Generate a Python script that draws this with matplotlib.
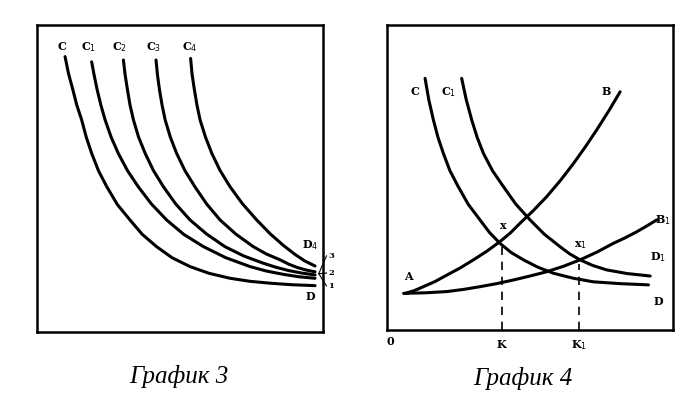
import matplotlib.pyplot as plt

# values, both panels on a 0..100 scale
# graph 3: demand curves D, C1..C4
g3_d_x = [9.8, 11.0, 12.5, 13.9, 15.6, 17.2, 19.1, 21.5, 24.4, 28.1, 32.5, 36.8, 41.8,
          47.2, 53.5, 60.2, 67.5, 74.5, 81.5, 89.0, 97.2]
g3_d_y = [89.7, 84.2, 79.0, 73.9, 69.1, 63.5, 58.2, 52.5, 47.3, 41.5, 36.5, 31.8, 27.8,
          24.2, 21.3, 19.1, 17.5, 16.5, 15.9, 15.4, 15.1]
g3_c1_x = [19.1, 20.0, 21.0, 22.3, 23.8, 25.9, 28.4, 31.6, 35.4, 40.0, 45.3, 51.3, 58.2,
           66.0, 74.5, 80.0, 86.0, 91.5, 97.2]
g3_c1_y = [88.0, 83.5, 79.0, 74.0, 69.1, 63.5, 58.2, 52.6, 47.3, 41.7, 36.5, 31.8, 27.8,
           24.2, 21.3, 19.9, 18.8, 18.0, 17.5]
g3_c2_x = [30.2, 30.8, 31.6, 32.5, 33.7, 35.5, 37.8, 40.7, 44.2, 48.5, 53.5, 59.3, 65.7,
           72.2, 79.1, 83.5, 88.0, 92.5, 97.2]
g3_c2_y = [88.6, 83.8, 79.0, 74.0, 69.1, 63.5, 58.2, 52.6, 47.3, 41.7, 36.5, 31.9, 27.8,
           24.8, 22.4, 21.1, 20.0, 19.2, 18.6]
g3_c3_x = [41.6, 42.1, 42.8, 43.7, 44.8, 46.6, 48.8, 51.7, 55.2, 59.3, 64.0, 69.5, 75.6,
           80.2, 85.0, 88.0, 91.0, 94.0, 97.2]
g3_c3_y = [88.6, 83.8, 79.0, 74.0, 69.1, 63.5, 58.2, 52.6, 47.3, 41.7, 36.5, 31.9, 27.8,
           25.4, 23.5, 22.1, 21.0, 20.2, 19.6]
g3_c4_x = [53.7, 54.2, 55.0, 55.9, 57.0, 58.9, 61.1, 64.0, 67.5, 71.8, 76.8, 81.5, 86.0,
           90.0, 93.5, 97.2]
g3_c4_y = [89.1, 84.0, 79.0, 74.0, 69.1, 63.5, 58.2, 52.6, 47.3, 41.8, 36.5, 32.0, 28.3,
           25.4, 23.2, 21.5]
g3_curve_labels = ['C', 'C$_1$', 'C$_2$', 'C$_3$', 'C$_4$']
g3_label_x = [8.6, 17.9, 29.0, 40.9, 53.5]
g3_side_labels = ['3', '2', '1']
g3_side_y = [24.8, 19.2, 15.0]

# graph 4: demand C/D and C1/D1, supply A-B and A-B1
g4_d_x = [13.3, 14.6, 16.2, 17.8, 19.7, 22.0, 24.9, 28.4, 32.5, 35.8, 39.5, 43.4, 47.7,
          52.7, 58.2, 65.0, 72.1, 81.5, 91.4]
g4_d_y = [82.5, 75.5, 68.9, 63.2, 57.9, 52.2, 47.0, 41.2, 36.1, 32.0, 28.4, 25.4, 23.0,
          20.6, 18.6, 17.0, 15.8, 15.2, 14.8]
g4_d1_x = [26.1, 27.7, 29.6, 31.5, 33.7, 36.9, 40.7, 45.0, 50.0, 55.0, 60.5, 63.8, 67.5,
           71.8, 76.8, 84.0, 92.0]
g4_d1_y = [82.5, 75.5, 68.9, 63.2, 57.9, 52.2, 47.0, 41.3, 36.1, 31.4, 27.3, 25.0, 23.0,
           21.2, 19.7, 18.5, 17.7]
g4_b_x = [6.3, 9.5, 12.7, 16.8, 20.9, 25.5, 30.2, 35.0, 39.5, 43.1, 46.5, 51.2, 55.8,
          60.6, 65.2, 69.3, 73.3, 77.5, 81.5]
g4_b_y = [12.0, 12.9, 14.2, 15.9, 18.0, 20.3, 23.0, 25.9, 29.0, 31.8, 35.0, 39.2, 43.7,
          49.0, 54.6, 60.0, 65.6, 71.8, 78.1]
g4_b1_x = [5.8, 13.5, 20.9, 26.7, 32.5, 38.3, 44.2, 50.0, 55.8, 61.7, 67.5, 73.3, 79.1,
           83.2, 87.3, 90.8, 94.3]
g4_b1_y = [12.0, 12.2, 12.6, 13.3, 14.2, 15.2, 16.4, 17.7, 19.1, 20.9, 23.0, 25.5, 28.4,
           30.2, 32.2, 34.1, 36.1]
g4_k = [40.1, 67.2]
g4_k_top = [27.5, 21.5]
g4_k_labels = ['K', 'K$_1$']

fig = plt.figure(figsize=(7, 4), dpi=100)
ax1 = fig.add_axes([0.0529, 0.17, 0.4086, 0.7675])
ax2 = fig.add_axes([0.5529, 0.175, 0.4086, 0.7625])

lab = dict(family='DejaVu Serif', fontsize=8, fontweight='bold', color='black')

for ax in (ax1, ax2):
    ax.set_xlim(0, 100)
    ax.set_ylim(0, 100)
    ax.set_xticks([])
    ax.set_yticks([])
    for s in ax.spines.values():
        s.set_linewidth(1.8)

# graph 3
for xs, ys in [(g3_d_x, g3_d_y), (g3_c1_x, g3_c1_y), (g3_c2_x, g3_c2_y),
               (g3_c3_x, g3_c3_y), (g3_c4_x, g3_c4_y)]:
    ax1.plot(xs, ys, color='black', lw=2.2, solid_capstyle='round', solid_joinstyle='round')
for name, x in zip(g3_curve_labels, g3_label_x):
    ax1.text(x, 92.9, name, ha='center', va='center', **lab)
ax1.text(95.5, 28.3, 'D$_4$', ha='center', va='center', **lab)
ax1.text(95.5, 11.5, 'D', ha='center', va='center', **lab)
for name, y in zip(g3_side_labels, g3_side_y):
    ax1.text(101.8, y, name, ha='left', va='center', clip_on=False,
             family='DejaVu Serif', fontsize=6, fontweight='bold')
    ax1.plot([98.5, 101.2], [19.0, y], color='black', lw=0.8, clip_on=False)

# graph 4
for xs, ys in [(g4_d_x, g4_d_y), (g4_d1_x, g4_d1_y), (g4_b_x, g4_b_y), (g4_b1_x, g4_b1_y)]:
    ax2.plot(xs, ys, color='black', lw=2.2, solid_capstyle='round', solid_joinstyle='round')
for k, top, name in zip(g4_k, g4_k_top, g4_k_labels):
    ax2.plot([k, k], [0, top], color='black', lw=1.2, ls=(0, (5, 4)))
    ax2.text(k, -4.9, name, ha='center', va='center', clip_on=False, **lab)
ax2.text(1.0, -3.8, '0', ha='center', va='center', clip_on=False, **lab)
ax2.text(9.8, 78.1, 'C', ha='center', va='center', **lab)
ax2.text(21.4, 78.1, 'C$_1$', ha='center', va='center', **lab)
ax2.text(76.8, 78.1, 'B', ha='center', va='center', **lab)
ax2.text(96.6, 36.1, 'B$_1$', ha='center', va='center', **lab)
ax2.text(40.7, 34.4, 'x', ha='center', va='center', **lab)
ax2.text(67.5, 27.8, 'x$_1$', ha='center', va='center', **lab)
ax2.text(94.9, 23.8, 'D$_1$', ha='center', va='center', **lab)
ax2.text(94.9, 9.3, 'D', ha='center', va='center', **lab)
ax2.text(7.5, 17.5, 'A', ha='center', va='center', **lab)

cap = dict(family='Liberation Serif', style='italic', fontsize=18, ha='center', va='center')
fig.text(179 / 700, 1 - 377 / 400, 'График 3', **cap)
fig.text(523 / 700, 1 - 378 / 400, 'График 4', **cap)

fig.savefig('out.png', dpi=100, facecolor='white')
